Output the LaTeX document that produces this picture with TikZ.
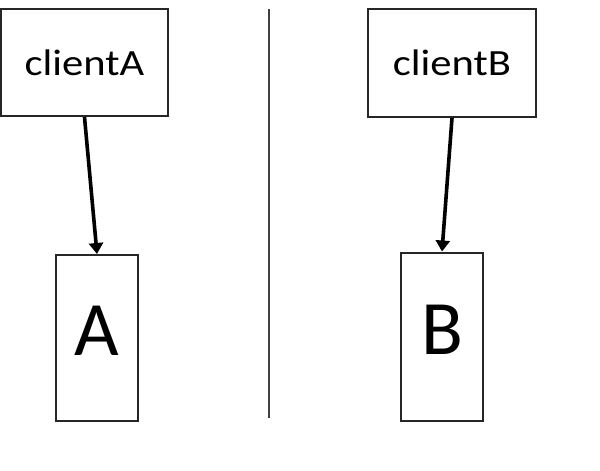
\documentclass[tikz,border=0pt]{standalone}
\usepackage{fontspec}
\setmainfont{Carlito}
\usetikzlibrary{arrows.meta}
\tikzset{
  box/.style={draw=black!85, line width=2pt, rectangle, inner sep=0pt, fill=white},
  conn/.style={line width=3.6pt, -{Triangle[width=14pt,length=11pt]}},
}
\begin{document}
\begin{tikzpicture}[x=1pt,y=-1pt]
\useasboundingbox (0,0) rectangle (600,471);
\node[box, minimum width=167pt, minimum height=107pt] (cA) at (84.5,62.5)
  {\fontsize{37}{40}\selectfont\scalebox{1.15}[1]{clientA}};
\node[box, minimum width=168pt, minimum height=108pt] (cB) at (452,63)
  {\fontsize{37}{40}\selectfont\scalebox{1.15}[1]{clientB}};
\node[box, minimum width=82pt, minimum height=166pt] (A) at (97,338)
  {\fontsize{77}{80}\selectfont\raisebox{14pt}{A}};
\node[box, minimum width=82pt, minimum height=168pt] (B) at (442,336.5)
  {\fontsize{77}{80}\selectfont\raisebox{14pt}{B}};
\coordinate (top) at (269,9);
\coordinate (bot) at (269,418);
\draw[line width=2pt, black!75] (top) -- (bot);
\draw[conn] (cA.south) -- (A.north);
\draw[conn] (cB.south) -- (B.north);
\end{tikzpicture}
\end{document}
